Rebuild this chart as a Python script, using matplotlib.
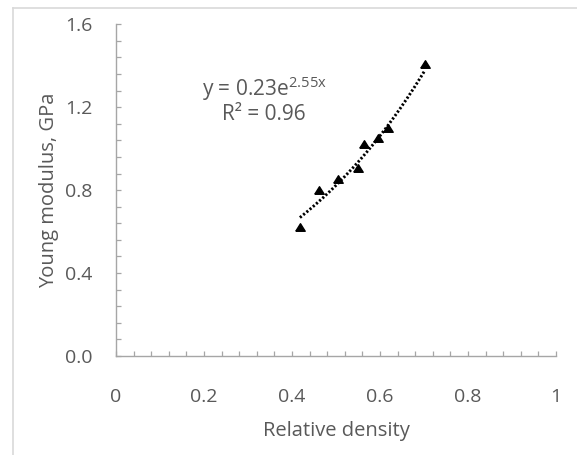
import numpy as np
import matplotlib
matplotlib.use("Agg")
import matplotlib.pyplot as plt
from matplotlib.lines import Line2D
from matplotlib.ticker import MultipleLocator

plt.rcParams['font.family'] = ['Open Sans', 'DejaVu Sans']
plt.rcParams['mathtext.fontset'] = 'custom'
plt.rcParams['mathtext.rm'] = 'Open Sans'
plt.rcParams['mathtext.default'] = 'regular'

# data
rel_density = [0.418, 0.462, 0.505, 0.551, 0.564, 0.596, 0.619, 0.702]
young_modulus = [0.62, 0.80, 0.855, 0.905, 1.025, 1.05, 1.10, 1.41]
fit_a = 0.23
fit_b = 2.55
x_ticks = [0, 0.2, 0.4, 0.6, 0.8, 1.0]
x_tick_labels = ['0', '0.2', '0.4', '0.6', '0.8', '1']
y_ticks = [0.0, 0.4, 0.8, 1.2, 1.6]
y_tick_labels = ['0.0', '0.4', '0.8', '1.2', '1.6']

W, H = 577, 455
fig = plt.figure(figsize=(W / 100, H / 100), dpi=100)
ax = fig.add_axes([116 / W, 1 - 356 / H, 440 / W, (356 - 24.3) / H])

txt = '#595959'
spine_c = '#a6a6a6'

xf = np.linspace(min(rel_density), max(rel_density), 200)
ax.plot(xf, fit_a * np.exp(fit_b * xf), color='black', lw=2.1,
        linestyle=(0, (0.75, 0.7)), dash_capstyle='butt', zorder=2)
tri = [(-1, -0.8), (1, -0.8), (0, 0.8), (-1, -0.8)]
ax.plot(rel_density, young_modulus, linestyle='none', marker=tri, ms=6.8,
        color='black', zorder=3)

ax.set_xlim(0, 1)
ax.set_ylim(0, 1.6)
ax.set_xticks(x_ticks)
ax.set_xticklabels(x_tick_labels)
ax.set_yticks(y_ticks)
ax.set_yticklabels(y_tick_labels)
ax.xaxis.set_minor_locator(MultipleLocator(0.04))
ax.yaxis.set_minor_locator(MultipleLocator(0.08))

for s in ['top', 'right']:
    ax.spines[s].set_visible(False)
for s in ['left', 'bottom']:
    ax.spines[s].set_color(spine_c)
    ax.spines[s].set_linewidth(1.0)

ax.tick_params(which='both', direction='in', color=spine_c, width=0.9,
               labelcolor=txt, labelsize=14, length=3.6)
ax.tick_params(axis='x', which='major', pad=23)
ax.tick_params(axis='y', which='major', pad=17)

ax.set_xlabel('Relative density', color=txt, fontsize=14.5, labelpad=11)
ax.set_ylabel('Young modulus, GPa', color=txt, fontsize=14.5, labelpad=4)

ax.text(202 / W, 1 - 89 / H, r'y = 0.23e$^{2.55x}$', transform=fig.transFigure,
        color=txt, fontsize=15, ha='left', va='center')
ax.text(222 / W, 1 - 115 / H, 'R² = 0.96', transform=fig.transFigure,
        color=txt, fontsize=15, ha='left', va='center')

border = '#d9d9d9'
fig.add_artist(Line2D([12.5 / W, 12.5 / W], [0, 1 - 8.3 / H], color=border, lw=1.2,
                      transform=fig.transFigure))
fig.add_artist(Line2D([12.5 / W, 1], [1 - 8.3 / H, 1 - 8.3 / H], color=border, lw=1.2,
                      transform=fig.transFigure))

fig.savefig('out.png', dpi=100)
